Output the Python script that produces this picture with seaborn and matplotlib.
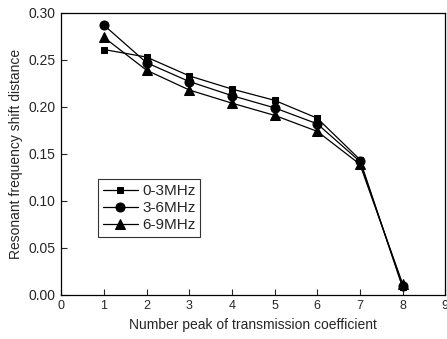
import numpy as np
import pandas as pd
import matplotlib
matplotlib.use("Agg")
import matplotlib.pyplot as plt
import seaborn as sns

peaks = [1, 2, 3, 4, 5, 6, 7, 8]
series_names = ["0-3MHz", "3-6MHz", "6-9MHz"]
s_0_3 = [0.261, 0.253, 0.233, 0.219, 0.207, 0.188, 0.144, 0.008]
s_3_6 = [0.287, 0.247, 0.227, 0.212, 0.199, 0.182, 0.142, 0.010]
s_6_9 = [0.274, 0.239, 0.218, 0.204, 0.191, 0.174, 0.139, 0.012]
x_ticks = [0, 1, 2, 3, 4, 5, 6, 7, 8, 9]
y_ticks = [0.00, 0.05, 0.10, 0.15, 0.20, 0.25, 0.30]

rows = []
for name, vals in zip(series_names, [s_0_3, s_3_6, s_6_9]):
    for p, v in zip(peaks, vals):
        rows.append({"peak": p, "shift": v, "band": name})
df = pd.DataFrame(rows)

sns.set_style("ticks")
plt.rcParams['font.family'] = ['Liberation Sans', 'DejaVu Sans']

fig = plt.figure(figsize=(4.47, 3.39), dpi=100)
ax = fig.add_axes([0.137, 0.130, 0.859, 0.832])

sizes = [4.5, 6.5, 6.5]
sns.lineplot(data=df, x="peak", y="shift", hue="band", style="band",
             markers={"0-3MHz": "s", "3-6MHz": "o", "6-9MHz": "^"},
             dashes=False, palette=["black", "black", "black"],
             markersize=6, linewidth=0.9, markeredgecolor="black",
             ax=ax, legend=True)
for line, ms in zip(ax.lines[:3], sizes):
    line.set_markersize(ms)

ax.set_xlim(0, 9)
ax.set_ylim(0, 0.30)
ax.set_xticks(x_ticks)
ax.set_yticks(y_ticks)
ax.set_yticklabels([f"{v:.2f}" for v in y_ticks], fontsize=10)
ax.set_xticklabels([str(v) for v in x_ticks], fontsize=9)
ax.tick_params(direction="in", length=4, width=0.8, pad=4)
ax.set_xlabel("Number peak of transmission coefficient", fontsize=10)
ax.set_ylabel("Resonant frequency shift distance", fontsize=10)
for sp in ax.spines.values():
    sp.set_visible(True)
    sp.set_linewidth(0.9)
    sp.set_color("black")

leg = ax.legend(loc="upper left", bbox_to_anchor=(0.096, 0.41), frameon=True,
                fancybox=False, edgecolor="black", fontsize=11,
                handlelength=2.3, borderpad=0.3, labelspacing=0.2,
                handletextpad=0.3, borderaxespad=0)
leg.get_frame().set_linewidth(0.8)
for h, ms in zip(leg.legend_handles, sizes):
    h.set_markersize(ms)

fig.savefig("out.png", dpi=100)
